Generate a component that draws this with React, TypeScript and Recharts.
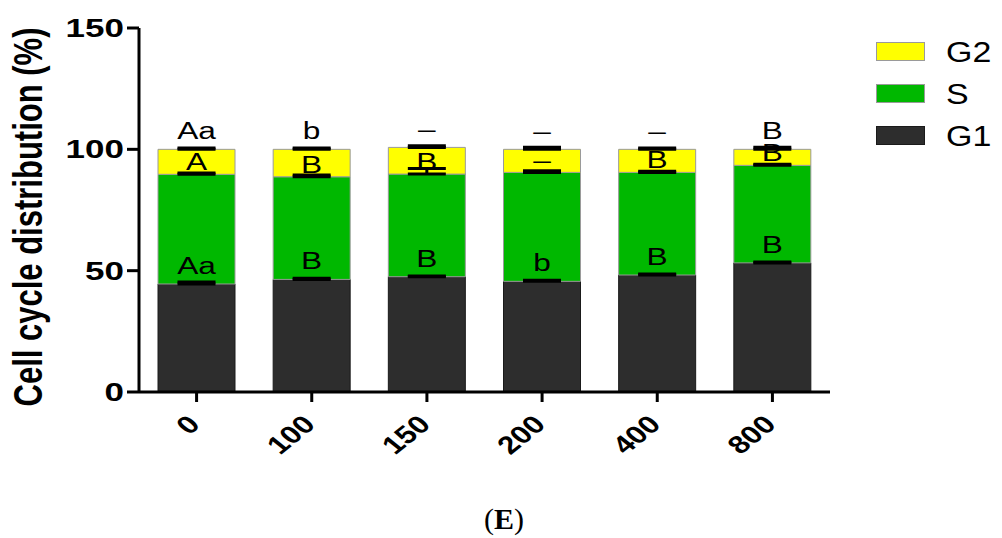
import { BarChart, Bar, XAxis, YAxis, ErrorBar, LabelList, Label } from 'recharts';

const doses = ['0', '100', '150', '200', '400', '800'];
const g1Values = [44.5, 46.4, 47.5, 45.6, 48.2, 53.2];
const sValues = [45.2, 42.3, 42.3, 44.9, 42.3, 40.2];
const g2Values = [10.3, 11.3, 11.0, 9.5, 9.5, 6.6];
const g1Errors = [0.8, 0.5, 0.3, 0.5, 0.4, 0.4];
const sErrors = [0.5, 0.7, 2.3, 0.7, 0.5, 0.5];
const g2Errors = [0.5, 0.5, 0.7, 0.9, 0.5, 0.9];
const g1Letters = ['Aa', 'B', 'B', 'b', 'B', 'B'];
const sLetters = ['A', 'B', 'B', '–', 'B', 'B'];
const g2Letters = ['Aa', 'b', '–', '–', '–', 'B'];
const yTicks = [0, 50, 100, 150];

const FONT = '"Liberation Sans", Arial, Helvetica, sans-serif';
// the source figure is stretched sideways, so the text is too
const STRETCH = 1.32;

const series = [
  { key: 'G1', name: 'G1', fill: '#2d2d2d', stroke: '#1a1a1a', lift: 10 },
  { key: 'S', name: 'S', fill: '#00b800', stroke: '#9a9a9a', lift: 4 },
  { key: 'G2', name: 'G2', fill: '#ffff00', stroke: '#9a9a9a', lift: 10 },
];

const data = doses.map((dose, i) => ({
  dose,
  G1: g1Values[i],
  S: sValues[i],
  G2: g2Values[i],
  G1err: [0, g1Errors[i]],
  Serr: [0, sErrors[i]],
  G2err: [0, g2Errors[i]],
  G1letter: g1Letters[i],
  Sletter: sLetters[i],
  G2letter: g2Letters[i],
}));

const YTick = ({ x, y, payload }: any) => (
  <text
    transform={`translate(${x},${y}) scale(1.4,1)`}
    textAnchor="end"
    dy="0.36em"
    fontFamily={FONT}
    fontWeight="bold"
    fontSize={25}
    fill="#000"
  >
    {payload.value}
  </text>
);

const XTick = ({ x, y, payload }: any) => (
  <text
    transform={`translate(${x + 5},${y + 24}) scale(1.25,1) rotate(-45)`}
    textAnchor="end"
    fontFamily={FONT}
    fontWeight="bold"
    fontSize={25}
    fill="#000"
  >
    {payload.value}
  </text>
);

const renderYLabel = (props: any) => {
  const vb = props.viewBox || {};
  const cy = vb.y + vb.height / 2 + 7;
  return (
    <text
      transform={`translate(28,${cy}) scale(${STRETCH},1) rotate(-90)`}
      textAnchor="middle"
      dominantBaseline="central"
      fontFamily={FONT}
      fontWeight="bold"
      fontSize={31}
      fill="#000"
    >
      Cell cycle distribution (%)
    </text>
  );
};

const letterLabel = (lift: number) => (props: any) => {
  const { x, y, width, value } = props;
  if (!value) return null;
  const cx = Number(x) + Number(width) / 2;
  const by = Number(y) - lift;
  return (
    <text
      transform={`translate(${cx},${by}) scale(${STRETCH},1)`}
      textAnchor="middle"
      fontFamily={FONT}
      fontSize={24}
      fill="#000"
    >
      {value}
    </text>
  );
};

const ChartLegend = () => {
  const items = [...series].reverse();
  return (
    <div style={{ position: 'absolute', left: 876, top: 42, width: 120, fontFamily: FONT }}>
      {items.map((s) => (
        <div key={s.key} style={{ position: 'relative', height: 42 }}>
          <div
            style={{
              position: 'absolute',
              left: 0,
              top: 0,
              width: 47,
              height: 17,
              background: s.fill,
              border: `1px solid ${s.stroke}`,
            }}
          />
          <span
            style={{
              position: 'absolute',
              left: 70,
              top: -6,
              fontSize: 29,
              lineHeight: '33px',
              color: '#000',
              transform: 'scaleX(1.17)',
              transformOrigin: 'left center',
              whiteSpace: 'nowrap',
            }}
          >
            {s.name}
          </span>
        </div>
      ))}
    </div>
  );
};

export default function App() {
  return (
    <div style={{ position: 'absolute', left: 0, top: 0, width: 1002, height: 538, background: '#fff' }}>
      <BarChart
        width={1002}
        height={538}
        data={data}
        margin={{ top: 28, right: 172, bottom: 0, left: 0 }}
      >
        <YAxis
          width={139}
          domain={[0, 150]}
          ticks={yTicks}
          interval={0}
          allowDataOverflow
          axisLine={{ stroke: '#000', strokeWidth: 3 }}
          tickLine={{ stroke: '#000', strokeWidth: 3 }}
          tickSize={12}
          tickMargin={3}
          tick={<YTick />}
        >
          <Label content={renderYLabel} />
        </YAxis>
        <XAxis
          dataKey="dose"
          height={146}
          interval={0}
          axisLine={{ stroke: '#000', strokeWidth: 3 }}
          tickLine={{ stroke: '#000', strokeWidth: 3 }}
          tickSize={10}
          tickMargin={0}
          tick={<XTick />}
        />
        {series.map((s) => (
          <Bar
            key={s.key}
            dataKey={s.key}
            name={s.name}
            stackId="cycle"
            fill={s.fill}
            stroke={s.stroke}
            strokeWidth={1}
            barSize={77}
            isAnimationActive={false}
          >
            <ErrorBar dataKey={`${s.key}err`} width={19} strokeWidth={3} stroke="#000" direction="y" />
            <LabelList dataKey={`${s.key}letter`} content={letterLabel(s.lift)} />
          </Bar>
        ))}
      </BarChart>
      <ChartLegend />
      <div
        style={{
          position: 'absolute',
          left: 0,
          top: 501,
          width: 1008,
          textAlign: 'center',
          fontFamily: '"Liberation Serif", "Times New Roman", serif',
          fontSize: 30,
          lineHeight: '36px',
          color: '#000',
        }}
      >
        (<b>E</b>)
      </div>
    </div>
  );
}
